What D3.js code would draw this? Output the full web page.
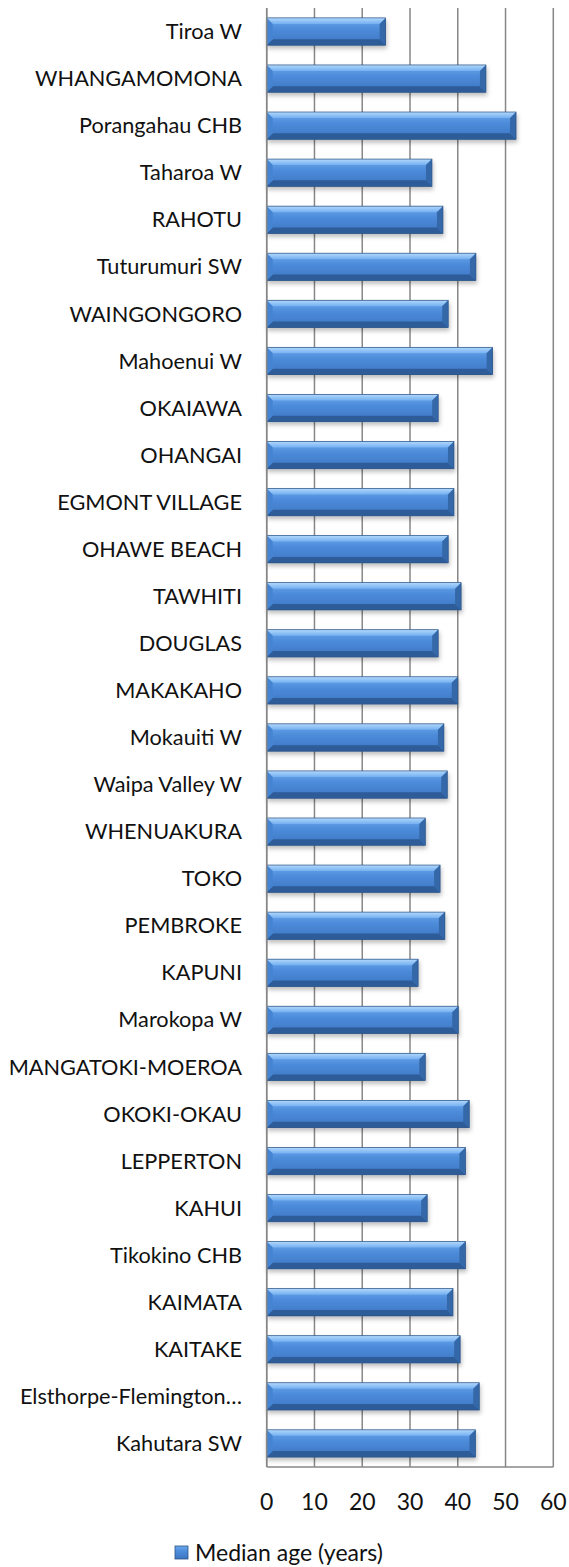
<!DOCTYPE html>
<html>
<head>
<meta charset="utf-8">
<script src="https://cdn.jsdelivr.net/npm/d3@7"></script>
<style>
  body { margin: 0; background: #fff; }
  text { font-family: Lato, 'Open Sans', sans-serif; fill: #111; }
</style>
</head>
<body>
<svg id="chart"></svg>
<script>
const places = [
  'Tiroa W', 'WHANGAMOMONA', 'Porangahau CHB', 'Taharoa W', 'RAHOTU',
  'Tuturumuri SW', 'WAINGONGORO', 'Mahoenui W', 'OKAIAWA', 'OHANGAI',
  'EGMONT VILLAGE', 'OHAWE BEACH', 'TAWHITI', 'DOUGLAS', 'MAKAKAHO',
  'Mokauiti W', 'Waipa Valley W', 'WHENUAKURA', 'TOKO', 'PEMBROKE',
  'KAPUNI', 'Marokopa W', 'MANGATOKI-MOEROA', 'OKOKI-OKAU', 'LEPPERTON',
  'KAHUI', 'Tikokino CHB', 'KAIMATA', 'KAITAKE', 'Elsthorpe-Flemington…',
  'Kahutara SW',
];

const medianAge = [
  24.9, 45.9, 52.2, 34.6, 36.9,
  43.8, 38.0, 47.3, 35.9, 39.2,
  39.2, 38.0, 40.7, 35.9, 40.0,
  37.1, 37.8, 33.2, 36.3, 37.3,
  31.7, 40.1, 33.2, 42.4, 41.6,
  33.6, 41.6, 39.0, 40.5, 44.5,
  43.7,
];

const xTicks = [0, 10, 20, 30, 40, 50, 60];
const seriesName = 'Median age (years)';

const WIDTH = 569;
const HEIGHT = 1567;
const LEFT = 266.7;
const RIGHT = 553.3;
const TOP = 8;
const BOTTOM = 1467;
const FONT = 21.7;
const BEVEL = 6;

const svg = d3.select('#chart')
    .attr('width', WIDTH)
    .attr('height', HEIGHT);

const defs = svg.append('defs');

const face = defs.append('linearGradient')
    .attr('id', 'face')
    .attr('x1', 0).attr('y1', 0).attr('x2', 0).attr('y2', 1);
face.append('stop').attr('offset', '0%').attr('stop-color', '#6fa9ee');
face.append('stop').attr('offset', '40%').attr('stop-color', '#4d8cda');
face.append('stop').attr('offset', '100%').attr('stop-color', '#3c75c2');

const topBevel = defs.append('linearGradient')
    .attr('id', 'topBevel')
    .attr('x1', 0).attr('y1', 0).attr('x2', 0).attr('y2', 1);
topBevel.append('stop').attr('offset', '0%').attr('stop-color', '#b2d8fc');
topBevel.append('stop').attr('offset', '100%').attr('stop-color', '#74b0f1');

const shadow = defs.append('filter')
    .attr('id', 'shadow')
    .attr('x', '-5%').attr('y', '-30%')
    .attr('width', '110%').attr('height', '170%');
shadow.append('feDropShadow')
    .attr('dx', 1).attr('dy', 3)
    .attr('stdDeviation', 2)
    .attr('flood-color', '#000')
    .attr('flood-opacity', 0.25);

const x = d3.scaleLinear()
    .domain([0, 60])
    .range([LEFT, RIGHT]);

const y = d3.scaleBand()
    .domain(places)
    .range([TOP, BOTTOM])
    .paddingInner(0.42)
    .paddingOuter(0.21);

// gridlines
svg.append('g')
    .selectAll('line')
    .data(xTicks)
    .join('line')
      .attr('x1', (d) => x(d))
      .attr('x2', (d) => x(d))
      .attr('y1', TOP)
      .attr('y2', BOTTOM)
      .attr('stroke', '#878787')
      .attr('stroke-width', 1.5);

svg.append('line')
    .attr('x1', LEFT)
    .attr('x2', RIGHT)
    .attr('y1', BOTTOM)
    .attr('y2', BOTTOM)
    .attr('stroke', '#878787')
    .attr('stroke-width', 1.5);

// bars
const bars = svg.append('g')
  .selectAll('g')
  .data(places.map((p, i) => ({place: p, value: medianAge[i]})))
  .join('g')
    .attr('filter', 'url(#shadow)');

bars.each(function(d) {
  const g = d3.select(this);
  const x0 = x(0);
  const x1 = x(d.value);
  const y0 = y(d.place);
  const y1 = y0 + y.bandwidth();
  const b = BEVEL;
  g.append('rect')
      .attr('x', x0)
      .attr('y', y0)
      .attr('width', x1 - x0)
      .attr('height', y1 - y0)
      .attr('fill', 'url(#face)');
  g.append('polygon')
      .attr('points', [[x0, y0], [x1, y0], [x1 - b, y0 + b], [x0 + b, y0 + b]].join(' '))
      .attr('fill', 'url(#topBevel)');
  g.append('polygon')
      .attr('points', [[x0, y1], [x1, y1], [x1 - b, y1 - b], [x0 + b, y1 - b]].join(' '))
      .attr('fill', '#2f5c98');
  g.append('polygon')
      .attr('points', [[x0, y0], [x0 + b, y0 + b], [x0 + b, y1 - b], [x0, y1]].join(' '))
      .attr('fill', '#4584d2');
  g.append('polygon')
      .attr('points', [[x1, y0], [x1 - b, y0 + b], [x1 - b, y1 - b], [x1, y1]].join(' '))
      .attr('fill', '#3468a8');
  g.append('rect')
      .attr('x', x0)
      .attr('y', y0)
      .attr('width', x1 - x0)
      .attr('height', y1 - y0)
      .attr('fill', 'none')
      .attr('stroke', '#2c5384')
      .attr('stroke-width', 0.7);
});

// axis line on the left
svg.append('line')
    .attr('x1', LEFT)
    .attr('x2', LEFT)
    .attr('y1', TOP)
    .attr('y2', BOTTOM)
    .attr('stroke', '#878787')
    .attr('stroke-width', 1.5);

// category labels
svg.append('g')
  .selectAll('text')
  .data(places)
  .join('text')
    .attr('x', 242)
    .attr('y', (d) => y(d) + y.bandwidth() / 2)
    .attr('dy', '0.35em')
    .attr('text-anchor', 'end')
    .style('font-size', FONT + 'px')
    .text((d) => d);

// value axis labels
svg.append('g')
  .selectAll('text')
  .data(xTicks)
  .join('text')
    .attr('x', (d) => x(d))
    .attr('y', 1502)
    .attr('dy', '0.35em')
    .attr('text-anchor', 'middle')
    .style('font-size', '23px')
    .text((d) => d);

// legend
const legend = svg.append('g');
legend.append('rect')
    .attr('x', 175)
    .attr('y', 1546)
    .attr('width', 13)
    .attr('height', 13)
    .attr('fill', 'url(#face)')
    .attr('stroke', '#2c5384')
    .attr('stroke-width', 0.8);
legend.append('text')
    .attr('x', 195)
    .attr('y', 1553)
    .attr('dy', '0.35em')
    .style('font-size', '23px')
    .text(seriesName);
</script>
</body>
</html>
